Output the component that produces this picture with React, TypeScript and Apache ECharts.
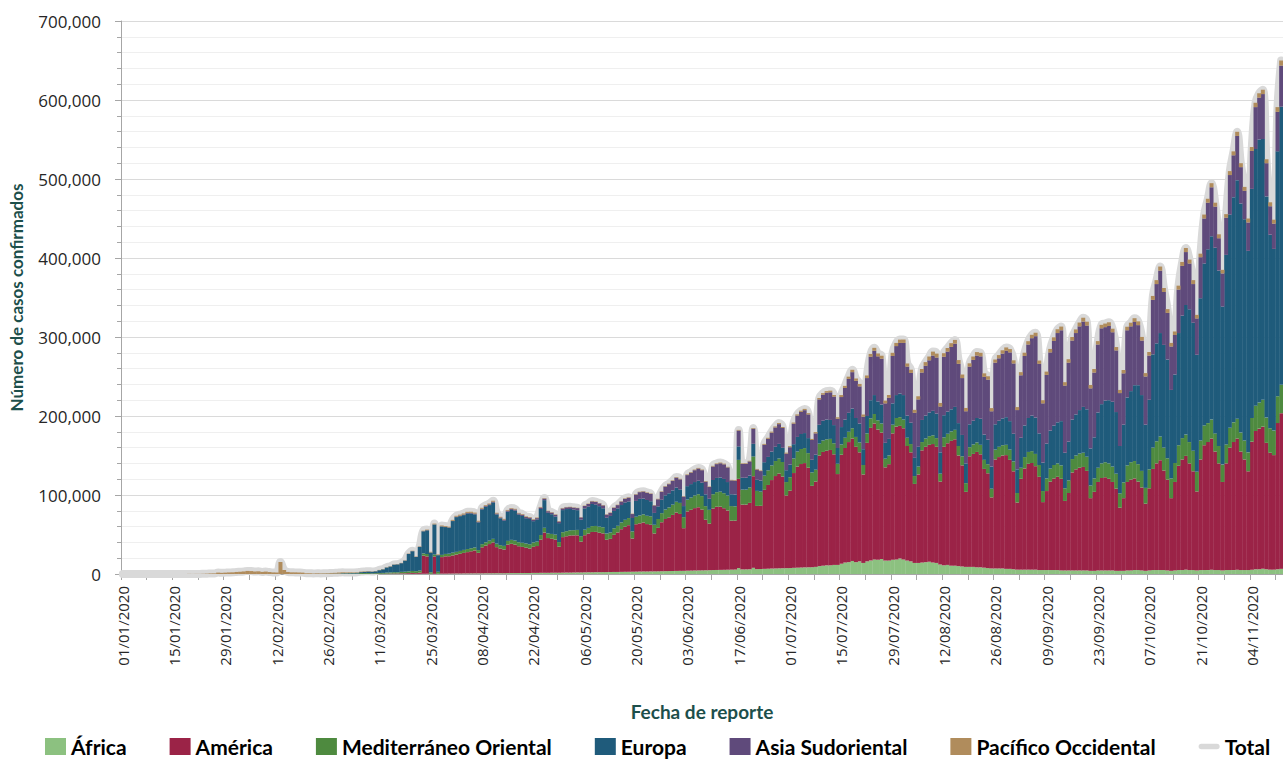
import React, { useEffect, useRef } from "react";
import * as echarts from "echarts";

// Daily confirmed cases, in thousands, from 01/01/2020 to 12/11/2020.
// One row per week (Wednesday ... Tuesday).
const AFRICA = [
  0,0,0,0,0,0,0, 0,0,0,0,0,0,0, 0,0,0,0,0,0,0, 0,0,0,0,0,0,0, 0,0,0,0,0,0,0,
  0,0,0,0,0,0,0, 0,0,0,0,0,0,0, 0,0,0,0,0,0,0, 0,0,0,0,0,0,0,
  0,0,0,0.01,0.01,0.01,0.02,
  0.02,0.03,0.04,0.05,0.07,0.08,0.1,
  0.1,0.12,0.15,0.17,0.2,0.25,0.3,
  0.2,0.2,0.3,0.4,0.4,0.5,0.5,
  0.6,0.6,0.7,0.7,0.8,0.8,0.8,
  0.8,0.9,0.9,1.0,1.0,1.0,1.0,
  1.1,1.2,1.2,1.2,1.3,1.3,1.3,
  1.4,1.4,1.5,1.5,1.5,1.6,1.6,
  1.6,1.7,1.8,1.8,1.9,2.0,2.0,
  2.1,2.2,2.2,2.3,2.3,2.4,2.4,
  2.5,2.6,2.6,2.7,2.8,2.8,2.9,
  3.0,3.1,3.2,3.2,3.3,3.3,3.4,
  3.5,3.6,3.7,3.8,3.9,4.0,4.0,
  4.2,4.3,4.4,4.5,4.6,4.7,4.8,
  5.0,5.1,5.2,5.3,5.4,5.5,5.6,
  7.5,5.8,5.9,6.0,7.8,6.2,6.3,
  6.5,6.7,6.9,7.0,7.2,7.3,7.4,
  7.5,7.8,8.0,8.2,8.4,8.5,8.6,
  9,10,10.5,11,11,11.5,11.5,
  13,14.5,15,16.5,15,16,14,
  16,17,18.5,18,19,17,17,
  18,18.5,19.5,18.5,17,16,14,
  14,14.5,15,15.5,14.5,14,12,
  11,11.5,10.5,10.5,10,9.5,9,
  9,9,8.5,8.5,8,7.5,7,
  7,7,7,6.5,6.5,6,5.5,
  5.5,5.5,5.5,5.5,5.5,5,5,
  5,5,5,5,4.5,4.5,4.5,
  4.5,4.5,4.5,4.5,4.5,4,4,
  4.5,4.5,4.5,4.5,4.5,4,4,
  4,4.5,4.5,5,5,4.5,4,
  4.5,5,5,5,5,4.5,4,
  4.5,5,5,5.5,5,5,4.5,
  5,5,5,5.5,5,5,4.5,
  5,5,5,5.5,5,5,5,
  5.5,6,6,6.5,6,5.5,5.5,
  6,6.5,
];

const AMERICA = [
  0,0,0,0,0,0,0, 0,0,0,0,0,0,0, 0,0,0,0,0,0,0, 0,0,0,0,0,0,0,
  0,0,0,0,0,0,0, 0,0,0,0,0,0,0, 0,0,0,0,0,0,0, 0,0,0,0,0,0,0,
  0,0,0,0.01,0.02,0.03,0.05,
  0.05,0.05,0.1,0.1,0.15,0.15,0.2,
  0.3,0.3,0.4,0.5,0.6,0.6,0.8,
  0.8,1.0,1.2,1.0,1.5,23,22,
  0,22,0,21,22,22,23,
  24,25,26,27,28,29,26,
  33,35,37,39,33,31,30,
  36,37,36,34,33,32,31,
  33,34,42,51,44,43,42,
  33,45,46,47,47,47,39,
  47,49,51,51,50,49,41,
  42,47,50,54,57,59,42,
  60,61,62,60,59,48,55,
  62,66,68,71,74,72,54,
  75,77,79,80,77,64,59,
  78,80,80,78,75,62,62,
  113,82,82,84,116,80,80,
  100,106,112,117,120,116,92,
  98,120,128,131,132,126,103,
  108,140,144,145,146,140,115,
  138,145,152,155,146,138,112,
  150,168,172,165,160,118,122,
  160,168,168,166,145,138,100,
  112,142,146,148,150,147,105,
  150,154,158,160,140,128,95,
  140,143,146,143,125,120,90,
  138,141,143,144,138,124,85,
  115,128,134,135,131,118,86,
  100,112,116,118,116,88,98,
  124,128,130,131,126,92,100,
  112,117,118,116,112,104,80,
  92,112,115,116,112,105,85,
  104,128,135,139,126,115,92,
  112,132,140,144,135,125,100,
  140,158,162,166,150,135,112,
  135,155,162,166,150,140,125,
  162,175,178,180,160,148,145,
  185,197,
];

const MEDITERRANEO = [
  0,0,0,0,0,0,0, 0,0,0,0,0,0,0, 0,0,0,0,0,0,0, 0,0,0,0,0,0,0,
  0,0,0,0,0,0,0, 0,0,0,0,0,0,0, 0,0,0,0,0,0,0,
  0,0.01,0.02,0.03,0.02,0.05,0.06,
  0.1,0.15,0.2,0.2,0.4,0.5,0.6,
  0.6,0.6,1.2,1.1,1.1,0.7,0.9,
  1.0,1.1,1.3,1.4,1.6,1.5,1.8,
  2.0,2.3,2.5,2.4,2.6,2.8,3.0,
  2.0,2.5,2.5,2.8,3.0,3.2,3.5,
  3.4,3.6,3.8,3.9,3.8,3.7,3.5,
  4.0,4.2,4.3,4.5,4.4,4.5,4.6,
  4.8,5.0,5.1,5.0,5.2,5.3,5.4,
  5.5,5.6,5.8,6.0,6.0,6.1,6.2,
  5.8,6.2,6.4,6.5,6.6,6.8,6.9,
  7.0,7.2,7.4,7.5,7.6,7.8,7.9,
  8.0,8.2,8.4,8.6,8.8,9.0,9.0,
  9.5,10,10.3,10.5,10.8,11,11.2,
  11.5,12,12.5,13,13.5,14,14,
  15,15.5,16,16.5,17,17.2,17.4,
  18,18.5,19,19,19,18.5,18,
  24,19,19,19.5,25,19,18,
  18,18.5,18.5,19,19,18.5,17,
  17,18.5,19,19,19,18.5,17,
  15,15,14.5,14.5,14,14,13,
  13,13,13,13,12.5,12.5,12,
  12,12,12,11.5,11.5,11,11,
  11,11,11,11,10.5,10.5,10,
  10,10.5,10.5,11,11,11,10,
  12,12,12,12,12,11.5,11,
  11.5,12,12,12,11.5,11.5,11,
  12.5,13,13,13,13,12.5,12,
  14,14.5,15,15,15.5,15,14,
  16,16.5,17,17,17,16,16,
  17,17.5,18,18,18,16,17,
  18,18.5,19,19.5,19.5,19,18,
  20,21,22,22,22,21,20,
  24,27,28,30,29,27,25,
  24,26,27,27,27,26,25,
  24,25,24,24,23,22,22,
  24,25,25,25,24,24,24,
  30,32,33,34,32,31,31,
  34,36,
];

const EUROPA = [
  0,0,0,0,0,0,0, 0,0,0,0,0,0,0, 0,0,0,0,0,0,0, 0,0,0,0,0,0,0,
  0,0,0,0,0,0,0, 0,0,0,0,0,0,0, 0,0,0,0,0,0,0,
  0,0,0.02,0.06,0.08,0.07,0.1,
  0.15,0.2,0.3,0.35,0.6,0.55,0.55,
  0.6,0.9,1.1,1.5,1.9,2.0,2.3,
  3.5,4.5,6.5,7.5,9.5,10,11,
  14,22,25,18,30,28,30,
  25,38,21,36,34,33,40,
  44,44,44,45,44,42,35,
  44,45,45,46,37,34,32,
  37,38,38,35,34,32,32,
  27,28,33,35,26,25,23,
  24,28,28,27,26,25,21,
  27,27,28,27,26,24,20,
  21,22,22,22,22,21,17,
  20,21,20,20,19,15,16,
  17,18,18,18,18,17,14,
  17,17,17,17,17,15,14,
  18,18,18,18,17,15,15,
  17,15,15,15,16,14,14,
  17,17,17.5,18,18.5,18,15,
  16,18,18.5,19,19,19,16,
  19,24,25,25,24,23,20,
  22,23,24,25,24,24,20,
  22,23,24,24,24,20,21,
  27,29,30,31,28,27,23,
  25,28,29,30,31,31,27,
  28,28,28,29,29,27,25,
  29,30,31,33,32,31,28,
  32,33,34,35,36,35,30,
  38,40,43,45,46,40,36,
  44,48,50,52,56,45,49,
  50,52,55,58,60,47,52,
  70,75,78,80,82,78,60,
  73,86,90,96,100,96,80,
  88,118,124,131,130,125,112,
  112,142,155,164,168,162,148,
  180,205,220,232,235,222,200,
  240,270,285,302,290,280,255,
  290,325,333,330,280,245,230,
  310,352,
];

const ASIA_SUDORIENTAL = [
  0,0,0,0,0,0,0, 0,0,0,0,0,0,0, 0,0,0,0,0,0,0, 0,0,0,0,0,0,0, 0,0,0,0,0,0,0,
  0,0,0,0,0,0,0, 0,0,0,0,0,0,0, 0,0,0,0,0,0,0, 0,0,0,0,0,0,0,
  0,0,0,0.01,0.01,0.02,0.02,
  0.02,0.03,0.03,0.04,0.05,0.06,0.06,
  0.07,0.08,0.1,0.12,0.15,0.2,0.2,
  0.1,0.1,0.1,0.2,0.2,0.3,0.3,
  0.5,0.6,0.7,0.8,0.8,0.9,0.9,
  0.8,0.9,1.0,1.0,1.1,1.0,1.2,
  1.2,1.3,1.3,1.4,1.5,1.5,1.6,
  1.6,1.7,1.8,1.9,2.0,2.0,2.1,
  2.0,2.1,2.2,2.3,2.4,2.6,2.7,
  3.0,3.2,3.3,3.4,3.5,3.6,3.8,
  3.9,4.0,4.2,4.4,4.6,4.8,5.0,
  8,8.5,8.8,9,9.3,9.5,9,
  10,11,11.5,12,12.5,12.8,12,
  14,14.5,15,15.5,15.8,16,15,
  17,17.5,18,18.5,18.5,17.5,17.5,
  20,17.5,17.5,18,19,13,12,
  22,23,24,24.5,25,25,21,
  22,26,27,28,29,30,25,
  27,32,33,34,35,36,37,
  38,40,43,46,47,47,41,
  48,55,56,57,58,50,52,
  60,62,64,66,62,63,57,
  60,60,63,66,70,71,58,
  74,76,79,80,75,72,66,
  73,77,79,79,73,76,70,
  78,79,82,84,87,89,75,
  79,88,93,98,103,88,75,
  87,99,107,113,115,85,100,
  100,103,106,108,106,76,82,
  86,96,93,94,88,78,67,
  65,85,82,80,76,69,61,
  56,69,75,79,67,59,55,
  50,55,63,67,58,49,46,
  52,57,59,62,52,41,42,
  47,50,53,56,46,36,36,
  48,53,53,57,42,36,32,
  50,52,
];

const PACIFICO_OCCIDENTAL = [
  0,0,0,0,0,0,0,
  0,0,0,0,0,0,0,
  0,0,0,0.02,0.14,0.08,0.15,
  0.13,0.26,0.44,0.69,0.77,1.77,1.46,
  1.74,1.98,2.1,2.59,2.83,3.24,3.89,
  3.7,3.15,3.4,2.66,3.06,2.49,2.03,
  1.9,15.2,5.1,2.6,2.1,2.05,1.9,
  1.75,0.9,0.95,0.6,0.8,0.65,0.7,
  0.75,1.0,1.0,1.3,1.1,0.9,0.85,
  0.7,0.6,0.6,0.6,0.45,0.3,0.3,
  0.35,0.4,0.35,0.4,0.3,0.35,0.35,
  0.4,0.4,0.5,0.45,0.5,0.6,0.7,
  0.8,1.0,0.9,1.0,1.1,0.9,1.2,
  1.2,1.3,1.4,1.3,1.4,1.3,1.2,
  1.2,1.1,1.0,1.2,1.0,0.9,1.0,
  1.0,0.9,0.9,0.8,0.9,0.8,0.8,
  0.8,0.8,0.8,0.7,0.6,0.6,0.6,
  0.6,0.6,0.5,0.5,0.5,0.4,0.4,
  0.5,0.5,0.6,0.6,0.5,0.5,0.5,
  0.5,0.5,0.5,0.5,0.6,0.6,0.5,
  0.6,0.6,0.6,0.6,0.6,0.5,0.6,
  0.6,0.7,0.7,0.7,0.8,0.7,0.6,
  0.8,0.8,0.8,0.8,0.8,0.7,0.6,
  0.9,0.9,0.9,0.9,0.8,0.7,0.8,
  0.9,0.8,0.8,0.8,1.0,0.8,0.8,
  1.2,1.2,1.3,1.3,1.4,1.3,1.2,
  1.3,1.4,1.5,1.5,1.6,1.6,1.4,
  1.6,1.8,1.9,2.0,2.1,2.0,1.9,
  2.5,2.6,2.8,3.0,3.0,3.1,2.9,
  3.3,3.6,3.8,3.7,3.8,3.5,3.6,
  4,4,4.2,4.3,4.0,4.1,3.8,
  4,4.5,4.7,4.8,5.0,5.0,4.5,
  4.5,4.6,4.7,4.8,4.8,4.5,4.2,
  4.2,4.3,4.4,4.5,4.5,4.3,4.0,
  4,4.1,4.2,4.3,4.2,4.0,3.8,
  4,4.1,4.2,4.3,4.4,4.2,4.0,
  4.2,4.4,4.6,4.8,4.7,4.3,4.4,
  4.5,4.6,4.8,4.9,4.9,4.3,4.5,
  4.3,4.4,4.5,4.6,4.5,4.3,4.0,
  4.2,4.5,4.6,4.8,4.8,4.6,4.3,
  4.5,5,5,5.2,5,4.8,4.5,
  4.5,5,5,5.2,5,5,4.5,
  4.5,5,5,5.2,5,5,4.5,
  4.5,5,5,5.3,5,5,5,
  5,5.5,5.5,5.5,5,5,5,
  6,6.5,
];

const SERIES_NAMES = [
  "África",
  "América",
  "Mediterráneo Oriental",
  "Europa",
  "Asia Sudoriental",
  "Pacífico Occidental",
];
const SERIES_DATA = [AFRICA, AMERICA, MEDITERRANEO, EUROPA, ASIA_SUDORIENTAL, PACIFICO_OCCIDENTAL];
const SERIES_COLORS = ["#8CC180", "#9B2347", "#4E8A3F", "#1F5B7B", "#5F4A7B", "#B08C5C"];
const TOTAL_NAME = "Total";
const TOTAL_COLOR = "#D9D9D9";

const Y_MAX = 700000;
const Y_STEP = 100000;

const START_YEAR = 2020;
const DAY_COUNT = AFRICA.length;

function pad(n: number) {
  return n < 10 ? "0" + n : String(n);
}
const DATES: string[] = [];
for (let i = 0; i < DAY_COUNT; i++) {
  const d = new Date(START_YEAR, 0, 1 + i);
  DATES.push(pad(d.getDate()) + "/" + pad(d.getMonth() + 1) + "/" + d.getFullYear());
}

export default function App() {
  const ref = useRef<HTMLDivElement>(null);

  useEffect(() => {
    if (!ref.current) return;
    const chart = echarts.init(ref.current, undefined, { renderer: "svg" });

    const counts = SERIES_DATA.map((arr) => arr.map((v) => Math.round(v * 1000)));
    const totals = DATES.map((_, i) => counts.reduce((s, arr) => s + (arr[i] || 0), 0));

    const barSeries = SERIES_NAMES.map((name, k) => ({
      name,
      type: "bar",
      stack: "total",
      data: counts[k],
      barWidth: 4,
      itemStyle: { color: SERIES_COLORS[k] },
      z: 3,
      emphasis: { disabled: true },
    }));

    const option: any = {
      animation: false,
      grid: { left: 120, right: 0, top: 21, bottom: 187, containLabel: false },
      legend: {
        top: 731,
        left: 40,
        itemGap: 43,
        itemWidth: 21,
        itemHeight: 17,
        textStyle: { fontFamily: "Lato", fontWeight: "bold", fontSize: 21, color: "#000" },
        data: [
          ...SERIES_NAMES.map((n) => ({ name: n, icon: "rect" })),
          {
            name: TOTAL_NAME,
            icon: "path://M4 0 H26 A4 4 0 0 1 26 8 H4 A4 4 0 0 1 4 0 Z",
          },
        ],
      },
      xAxis: {
        type: "category",
        data: DATES,
        boundaryGap: true,
        name: "Fecha de reporte",
        nameLocation: "middle",
        nameGap: 128,
        nameTextStyle: { fontFamily: "Lato", fontWeight: "bold", fontSize: 19, color: "#1D4F4B" },
        axisLine: { show: true, lineStyle: { color: "#A6A6A6", width: 1 } },
        axisTick: { show: true, interval: 6, length: 6, lineStyle: { color: "#A6A6A6" } },
        axisLabel: {
          interval: 13,
          rotate: 90,
          margin: 12,
          fontFamily: "Open Sans",
          fontSize: 15,
          color: "#262626",
        },
        splitLine: { show: false },
      },
      yAxis: {
        type: "value",
        min: 0,
        max: Y_MAX,
        interval: Y_STEP,
        name: "Número de casos confirmados",
        nameLocation: "middle",
        nameGap: 96,
        nameTextStyle: { fontFamily: "Lato", fontWeight: "bold", fontSize: 17, color: "#1D4F4B" },
        axisLine: { show: true, lineStyle: { color: "#A6A6A6", width: 1 } },
        axisTick: { show: true, length: 6, lineStyle: { color: "#A6A6A6" } },
        minorTick: { show: true, splitNumber: 5, length: 4, lineStyle: { color: "#A6A6A6" } },
        axisLabel: {
          margin: 20,
          fontFamily: "Open Sans",
          fontSize: 17,
          color: "#262626",
          formatter: (v: number) => v.toLocaleString("en-US"),
        },
        splitLine: { show: true, lineStyle: { color: "#DADADA", width: 1 } },
        minorSplitLine: { show: true, lineStyle: { color: "#EFEFEF", width: 1 } },
      },
      series: [
        {
          name: TOTAL_NAME,
          type: "line",
          data: totals,
          smooth: 0.4,
          symbol: "none",
          color: TOTAL_COLOR,
          lineStyle: { color: TOTAL_COLOR, width: 8, cap: "round", join: "round" },
          z: 1,
          emphasis: { disabled: true },
        },
        ...barSeries,
      ],
    };

    chart.setOption(option);
    return () => chart.dispose();
  }, []);

  return (
    <div
      ref={ref}
      style={{ position: "fixed", left: 0, top: 0, width: 1283, height: 761, background: "#fff" }}
    />
  );
}
